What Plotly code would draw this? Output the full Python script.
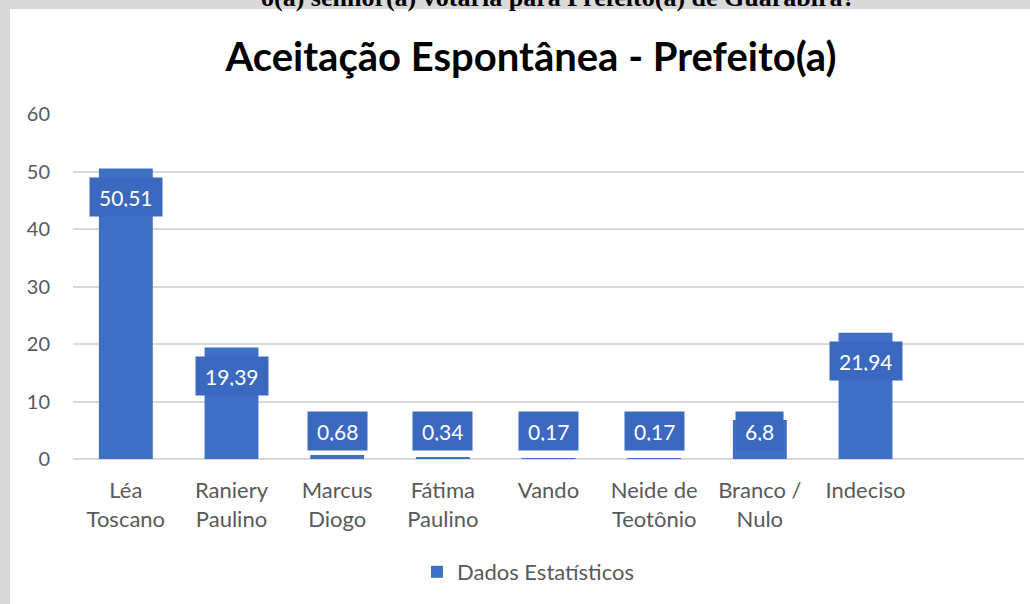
import plotly.graph_objects as go

categories = ["Léa<br>Toscano", "Raniery<br>Paulino", "Marcus<br>Diogo", "Fátima<br>Paulino",
              "Vando", "Neide de<br>Teotônio", "Branco /<br>Nulo", "Indeciso"]
values = [50.51, 19.39, 0.68, 0.34, 0.17, 0.17, 6.8, 21.94]
y_ticks = [0, 10, 20, 30, 40, 50, 60]
series_name = "Dados Estatísticos"
title_text = "Aceitação Espontânea - Prefeito(a)"
page_text = "o(a) senhor(a) votaria para Prefeito(a) de Guarabira?"

W, H = 1030, 604
ML, MR, MT, MB = 73, 6, 114, 145
PW, PH = W - ML - MR, H - MT - MB

def px_x(p):
    return (p - ML) / PW

def px_y(p):
    return (H - MB - p) / PH

BAR = "#4070c6"
BOX = "#3b69c0"
GREY = "#595959"

fig = go.Figure()
fig.add_trace(go.Bar(
    x=list(range(len(categories))), y=values, name=series_name,
    marker=dict(color=BAR, line=dict(width=0)), width=0.51,
    hoverinfo="skip", showlegend=True,
))

annotations = []
ymax = y_ticks[-1]
px_per_unit = PH / ymax
for i, v in enumerate(values):
    label = f"{v:g}".replace(".", ",")
    if v * px_per_unit >= 56:
        pos = dict(y=v, yanchor="top", yshift=-8)
    else:
        pos = dict(y=0, yanchor="bottom", yshift=8)
    annotations.append(dict(
        x=i, xref="x", yref="y", text=label, showarrow=False,
        font=dict(family="Lato", size=21, color="white"),
        bgcolor=BOX, borderpad=9, height=20, **pos))

annotations.append(dict(
    x=px_x(558), y=px_y(14), xref="paper", yref="paper", xanchor="center", yanchor="bottom",
    text=f"<b>{page_text}</b>", showarrow=False,
    font=dict(family="Liberation Serif", size=26, color="black")))

fig.update_layout(
    width=W, height=H,
    margin=dict(l=ML, r=MR, t=MT, b=MB, pad=0),
    paper_bgcolor="#d9d9d9", plot_bgcolor="white",
    title=dict(text=f"<b>{title_text}</b>", xref="container", x=531 / W, xanchor="center",
               yref="container", y=1 - 57 / H, yanchor="middle",
               font=dict(family="Lato", size=40, color="black")),
    shapes=[dict(type="rect", xref="paper", yref="paper", layer="below",
                 x0=px_x(10), x1=px_x(W + 5), y0=px_y(H + 5), y1=px_y(9),
                 fillcolor="white", line=dict(width=0))],
    annotations=annotations,
    legend=dict(orientation="h", x=px_x(528), xanchor="center", y=px_y(572), yanchor="middle",
                font=dict(family="Lato", size=22, color=GREY), bgcolor="rgba(0,0,0,0)"),
    showlegend=True,
    bargap=0.49,
)
fig.update_xaxes(
    tickmode="array", tickvals=list(range(len(categories))), ticktext=categories,
    range=[-0.5, len(categories) + 0.5],
    tickfont=dict(family="Lato", size=22, color=GREY),
    showgrid=False, zeroline=False, showline=False, ticks="", ticklabelstandoff=16,
)
fig.update_yaxes(
    range=[0, ymax], tickvals=y_ticks,
    tickfont=dict(family="Lato", size=20, color=GREY),
    showgrid=True, gridcolor="#d9d9d9", gridwidth=1.5,
    zeroline=True, zerolinecolor="#d9d9d9", zerolinewidth=1.5,
    showline=False, ticks="", ticklabelstandoff=22,
)
fig.write_html("out.html", config={"displayModeBar": False},
               post_script="document.body.style.margin='0';")
